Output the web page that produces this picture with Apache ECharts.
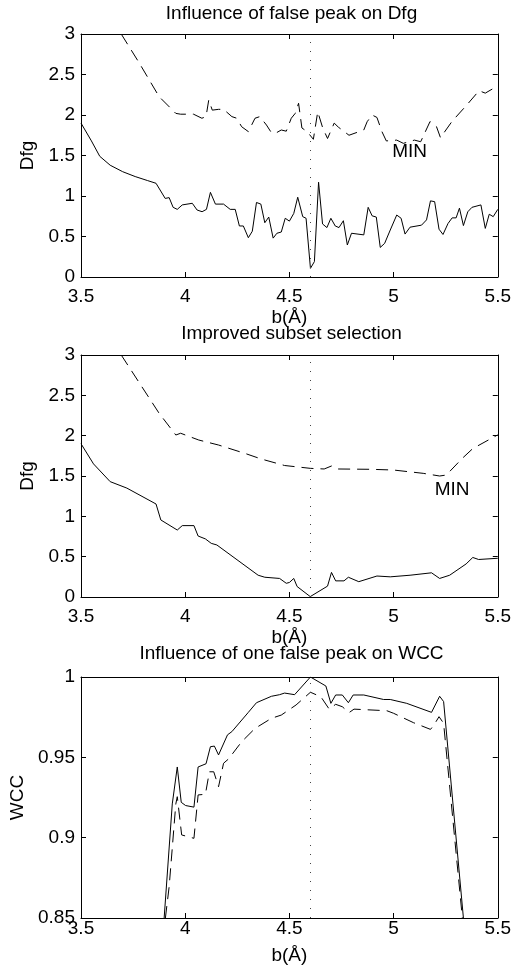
<!DOCTYPE html>
<html>
<head>
<meta charset="utf-8">
<script src="https://cdn.jsdelivr.net/npm/echarts@6/dist/echarts.min.js"></script>
<style>
html, body { margin: 0; padding: 0; background: #fff; }
#chart { width: 514px; height: 970px; }
</style>
</head>
<body>
<div id="chart"></div>
<script>
// panel 1: influence of false peak on Dfg
var p1SolidB = [3.5, 3.55, 3.59, 3.64, 3.7, 3.76, 3.82, 3.86, 3.904, 3.923, 3.942, 3.962, 3.986, 4.034, 4.057, 4.081, 4.102, 4.121, 4.145, 4.184, 4.216, 4.24, 4.26, 4.279, 4.303, 4.322, 4.342, 4.363, 4.382, 4.401, 4.422, 4.44, 4.461, 4.48, 4.5, 4.521, 4.54, 4.564, 4.58, 4.601, 4.62, 4.64, 4.659, 4.68, 4.699, 4.72, 4.738, 4.759, 4.778, 4.798, 4.857, 4.878, 4.897, 4.917, 4.936, 4.957, 4.984, 5.015, 5.036, 5.055, 5.079, 5.134, 5.158, 5.177, 5.197, 5.218, 5.237, 5.261, 5.281, 5.3, 5.316, 5.335, 5.356, 5.376, 5.419, 5.44, 5.459, 5.478, 5.5];
var p1SolidV = [1.9, 1.68, 1.49, 1.38, 1.3, 1.24, 1.19, 1.157, 0.97, 0.98, 0.86, 0.835, 0.89, 0.91, 0.827, 0.806, 0.835, 1.045, 0.9, 0.9, 0.835, 0.835, 0.63, 0.63, 0.485, 0.565, 0.92, 0.9, 0.67, 0.74, 0.48, 0.54, 0.555, 0.725, 0.69, 0.785, 0.985, 0.745, 0.725, 0.107, 0.19, 1.17, 0.655, 0.61, 0.725, 0.63, 0.61, 0.695, 0.395, 0.54, 0.52, 0.86, 0.755, 0.74, 0.365, 0.415, 0.58, 0.765, 0.725, 0.53, 0.615, 0.64, 0.705, 0.94, 0.93, 0.59, 0.525, 0.66, 0.73, 0.73, 0.85, 0.635, 0.805, 0.86, 0.89, 0.6, 0.775, 0.745, 0.835];
var p1DashB = [3.693, 3.78, 3.875, 3.955, 3.978, 4.04, 4.08, 4.1, 4.113, 4.13, 4.16, 4.184, 4.224, 4.247, 4.271, 4.303, 4.335, 4.358, 4.39, 4.414, 4.437, 4.461, 4.485, 4.509, 4.528, 4.544, 4.56, 4.585, 4.615, 4.636, 4.66, 4.683, 4.715, 4.735, 4.786, 4.857, 4.873, 4.897, 4.92, 4.944, 4.965, 5.015, 5.047, 5.1, 5.13, 5.175, 5.206, 5.225, 5.28, 5.35, 5.41, 5.44, 5.5];
var p1DashV = [3.0, 2.64, 2.226, 2.02, 2.01, 2.01, 1.96, 1.98, 2.185, 2.06, 2.07, 2.07, 1.98, 1.96, 1.855, 1.795, 1.96, 1.98, 1.876, 1.78, 1.78, 1.815, 1.8, 1.96, 2.02, 2.145, 1.84, 1.795, 1.7, 2.04, 1.84, 1.71, 1.9, 1.85, 1.75, 1.815, 1.917, 2.0, 1.97, 1.795, 1.68, 1.69, 1.65, 1.69, 1.67, 1.92, 1.855, 1.72, 1.92, 2.12, 2.3, 2.27, 2.36];

// panel 2: improved subset selection
var p2SolidB = [3.5, 3.56, 3.64, 3.72, 3.86, 3.883, 3.962, 3.986, 4.042, 4.062, 4.097, 4.125, 4.152, 4.35, 4.382, 4.453, 4.485, 4.5, 4.521, 4.537, 4.6, 4.683, 4.702, 4.722, 4.762, 4.783, 4.833, 4.92, 4.984, 5.079, 5.182, 5.221, 5.269, 5.348, 5.38, 5.408, 5.5];
var p2SolidV = [1.9, 1.65, 1.43, 1.35, 1.153, 0.955, 0.83, 0.885, 0.885, 0.756, 0.72, 0.665, 0.645, 0.27, 0.245, 0.23, 0.17, 0.18, 0.23, 0.13, 0.005, 0.135, 0.305, 0.2, 0.2, 0.245, 0.19, 0.26, 0.25, 0.27, 0.3, 0.23, 0.27, 0.41, 0.49, 0.465, 0.48];
var p2DashB = [3.693, 3.875, 3.955, 3.978, 4.065, 4.16, 4.287, 4.366, 4.477, 4.6, 4.667, 4.702, 4.73, 4.889, 5.0, 5.142, 5.221, 5.253, 5.33, 5.38, 5.5];
var p2DashV = [3.0, 2.277, 2.008, 2.03, 1.946, 1.884, 1.78, 1.71, 1.63, 1.595, 1.587, 1.624, 1.587, 1.583, 1.574, 1.533, 1.5, 1.512, 1.72, 1.84, 2.01];

// panel 3: influence of one false peak on WCC
var p3SolidB = [3.899, 3.938, 3.962, 3.981, 4.002, 4.042, 4.062, 4.1, 4.121, 4.14, 4.16, 4.203, 4.224, 4.303, 4.342, 4.414, 4.453, 4.477, 4.525, 4.601, 4.675, 4.699, 4.722, 4.754, 4.783, 4.806, 4.857, 4.952, 4.984, 5.063, 5.182, 5.221, 5.24, 5.335];
var p3SolidV = [0.85, 0.921, 0.944, 0.922, 0.92, 0.919, 0.944, 0.946, 0.9566, 0.957, 0.9515, 0.964, 0.966, 0.978, 0.984, 0.988, 0.989, 0.99, 0.989, 1.0, 0.9944, 0.9836, 0.9888, 0.9888, 0.984, 0.9888, 0.9888, 0.986, 0.986, 0.9836, 0.978, 0.988, 0.9847, 0.85];
var p3DashB = [3.905, 3.923, 3.955, 3.962, 3.983, 4.042, 4.062, 4.097, 4.116, 4.137, 4.16, 4.184, 4.208, 4.271, 4.335, 4.414, 4.461, 4.532, 4.601, 4.651, 4.691, 4.722, 4.754, 4.786, 4.81, 4.968, 5.0, 5.095, 5.177, 5.193, 5.218, 5.24, 5.33];
var p3DashV = [0.85, 0.8695, 0.921, 0.9255, 0.9017, 0.8996, 0.9266, 0.927, 0.941, 0.941, 0.9317, 0.9463, 0.949, 0.9597, 0.968, 0.9743, 0.9763, 0.9826, 0.9905, 0.9877, 0.98, 0.983, 0.9815, 0.9778, 0.98, 0.979, 0.9774, 0.9716, 0.9674, 0.97, 0.9753, 0.9712, 0.85];

var titles = ['Influence of false peak on Dfg', 'Improved subset selection', 'Influence of one false peak on WCC'];
var yNames = ['Dfg', 'Dfg', 'WCC'];
var xName = 'b(\u00C5)';
var peakB = 4.6;
var minLabelP1 = [5.077, 1.543];
var minLabelP2 = [5.281, 1.326];

var FONT = '"Liberation Sans", Arial, Helvetica, sans-serif';
var FS = 19;

function zip(xs, ys) {
    var out = [];
    for (var i = 0; i < xs.length; i++) out.push([xs[i], ys[i]]);
    return out;
}

var grids = [
    { left: 81, top: 34, width: 421, height: 243 },
    { left: 81, top: 355, width: 421, height: 242 },
    { left: 81, top: 677, width: 421, height: 241 }
];
var titleTops = [4, 324, 644];
var xLabelMargins = [10, 10, 1];
var xNameGaps = [31, 31, 28];
var yRanges = [[0, 3, 0.5], [0, 3, 0.5], [0.85, 1, 0.05]];

var tickStyle = { show: true, inside: true, length: 5, lineStyle: { color: '#000', width: 1 } };
var lineAxis = { show: true, onZero: false, lineStyle: { color: '#000', width: 1 } };

var xAxes = [], yAxes = [], titleList = [];
for (var g = 0; g < 3; g++) {
    titleList.push({
        text: titles[g], left: 291.5, top: titleTops[g], textAlign: 'center', padding: 0,
        textStyle: { fontFamily: FONT, fontSize: FS, fontWeight: 'normal', color: '#000', lineHeight: 20 }
    });
    xAxes.push({
        gridIndex: g, type: 'value', position: 'bottom', min: 3.5, max: 5.5, interval: 0.5,
        name: xName, nameLocation: 'middle', nameGap: xNameGaps[g],
        nameTextStyle: { fontFamily: FONT, fontSize: FS, color: '#000' },
        axisLine: lineAxis, axisTick: tickStyle, splitLine: { show: false },
        axisLabel: { margin: xLabelMargins[g], fontFamily: FONT, fontSize: FS, color: '#000', showMaxLabel: true, showMinLabel: true }
    });
    xAxes.push({
        gridIndex: g, type: 'value', position: 'top', min: 3.5, max: 5.5, interval: 0.5,
        axisLine: lineAxis, axisTick: tickStyle, splitLine: { show: false }, axisLabel: { show: false }
    });
    yAxes.push({
        gridIndex: g, type: 'value', position: 'left', min: yRanges[g][0], max: yRanges[g][1], interval: yRanges[g][2],
        name: yNames[g], nameLocation: 'middle', nameGap: 42,
        nameTextStyle: { fontFamily: FONT, fontSize: FS, color: '#000' },
        axisLine: lineAxis, axisTick: tickStyle, splitLine: { show: false },
        axisLabel: { margin: 6, fontFamily: FONT, fontSize: FS, color: '#000' }
    });
    yAxes.push({
        gridIndex: g, type: 'value', position: 'right', min: yRanges[g][0], max: yRanges[g][1], interval: yRanges[g][2],
        axisLine: lineAxis, axisTick: tickStyle, splitLine: { show: false }, axisLabel: { show: false }
    });
}

function lineSeries(g, data, dashed, extra) {
    var s = {
        type: 'line', xAxisIndex: g * 2, yAxisIndex: g * 2, data: data,
        showSymbol: false, symbol: 'none', clip: true, silent: true,
        lineStyle: { color: '#000', width: 1, type: dashed ? [12, 7] : 'solid' }
    };
    for (var k in extra) s[k] = extra[k];
    return s;
}

function peakLine() {
    return {
        silent: true, symbol: ['none', 'none'], label: { show: false },
        lineStyle: { color: '#444', width: 1, type: [1, 8] },
        data: [{ xAxis: peakB }]
    };
}

function minMark(coord) {
    return {
        silent: true, symbol: 'circle', symbolSize: 1, itemStyle: { color: 'rgba(0,0,0,0)' },
        label: { show: true, position: 'inside', formatter: 'MIN', fontFamily: FONT, fontSize: FS, color: '#000' },
        data: [{ coord: coord }]
    };
}

var series = [
    lineSeries(0, zip(p1SolidB, p1SolidV), false, { markLine: peakLine() }),
    lineSeries(0, zip(p1DashB, p1DashV), true, { markPoint: minMark(minLabelP1) }),
    lineSeries(1, zip(p2SolidB, p2SolidV), false, { markLine: peakLine() }),
    lineSeries(1, zip(p2DashB, p2DashV), true, { markPoint: minMark(minLabelP2) }),
    lineSeries(2, zip(p3SolidB, p3SolidV), false, { markLine: peakLine() }),
    lineSeries(2, zip(p3DashB, p3DashV), true, {})
];

var myChart = echarts.init(document.getElementById('chart'), null, { renderer: 'canvas' });
myChart.setOption({
    animation: false,
    backgroundColor: '#fff',
    title: titleList,
    grid: grids,
    xAxis: xAxes,
    yAxis: yAxes,
    series: series
});
</script>
</body>
</html>
